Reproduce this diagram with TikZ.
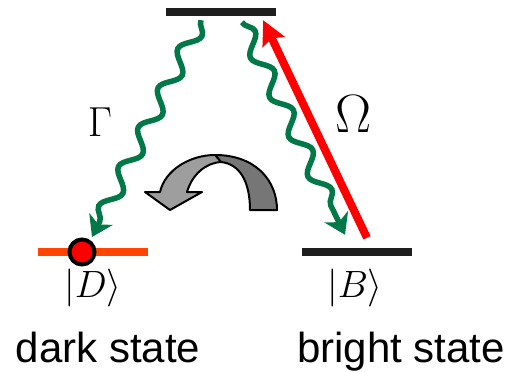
\documentclass[tikz,border=0pt]{standalone}
\usepackage{fix-cm}
\usepackage{fontspec}
\newfontfamily\labelfont{Liberation Sans}
\usetikzlibrary{arrows.meta,calc,decorations.pathmorphing}
\definecolor{levelblack}{RGB}{30,30,30}
\definecolor{darkline}{RGB}{255,69,0}
\definecolor{pumpred}{RGB}{255,0,0}
\definecolor{wavegreen}{RGB}{0,120,72}
\definecolor{turnlight}{RGB}{158,158,158}
\definecolor{turndark}{RGB}{118,118,118}
\tikzset{
  level/.style={rectangle,inner sep=0pt,minimum width=110pt,minimum height=8pt},
  atomdot/.style={circle,inner sep=0pt,minimum size=25pt,fill=pumpred,
    draw=black,line width=4pt},
  ket/.style={inner sep=0pt,font=\fontsize{38}{42}\selectfont},
  rate/.style={inner sep=0pt,font=\fontsize{42}{48}\selectfont},
  caption/.style={inner sep=0pt,anchor=base,
    font=\labelfont\fontsize{42}{48}\selectfont},
  decay/.style={wavegreen,line width=5.5pt,
    -{Stealth[length=20pt,width=26pt,inset=6pt]},
    decorate,decoration={snake,amplitude=8pt,segment length=44pt,post length=16pt}},
  pump/.style={pumpred,line width=8pt,-{Stealth[length=24pt,width=24pt,inset=4pt]}},
  turn/.style={draw=black,line width=2pt,line join=round}
}

\begin{document}
\begin{tikzpicture}[x=1pt,y=-1pt]
  \useasboundingbox (0,0) rectangle (506,372);
  % the three levels
  \node[level,fill=levelblack] (upper) at (221,12) {};
  \node[level,fill=darkline] (dark) at (93,252) {};
  \node[level,fill=levelblack] (bright) at (357,252) {};
  \node[atomdot] (atom) at (82,252) {};
  % labels
  \node[ket] (ketD) at (93,288) {$|D\rangle$};
  \node[ket] (ketB) at (355,288) {$|B\rangle$};
  \node[caption] (darkText) at (108,362) {dark state};
  \node[caption] (brightText) at (401,362) {bright state};
  \node[rate] (gamma) at (100,122) {$\Gamma$};
  \node[rate,font=\fontsize{54}{60}\selectfont] (omega) at (354,114) {$\Omega$};
  % decay and pump
  \draw[decay] ($(upper.south)+(-20,4)$) -- ($(atom)+(10,-15)$);
  \draw[decay] ($(upper.south)+(21,6)$) -- ($(bright.north)+(-12,-13)$);
  \draw[pump] ($(bright.north)+(10,-10)$) -- ($(upper.south east)+(-13,4)$);
  % turning arrow
  \filldraw[turn,fill=turndark] (215,155) .. controls (255,155) and (277,180) .. (277,210)
    -- (250,210) .. controls (250,182) and (240,164) .. (221,162) -- cycle;
  \filldraw[turn,fill=turnlight] (215,155) .. controls (190,155) and (165,170) .. (160,192)
    -- (145,192) -- (170,210) -- (202,192) -- (187,192)
    .. controls (192,175) and (205,163) .. (221,162) -- cycle;
\end{tikzpicture}
\end{document}
